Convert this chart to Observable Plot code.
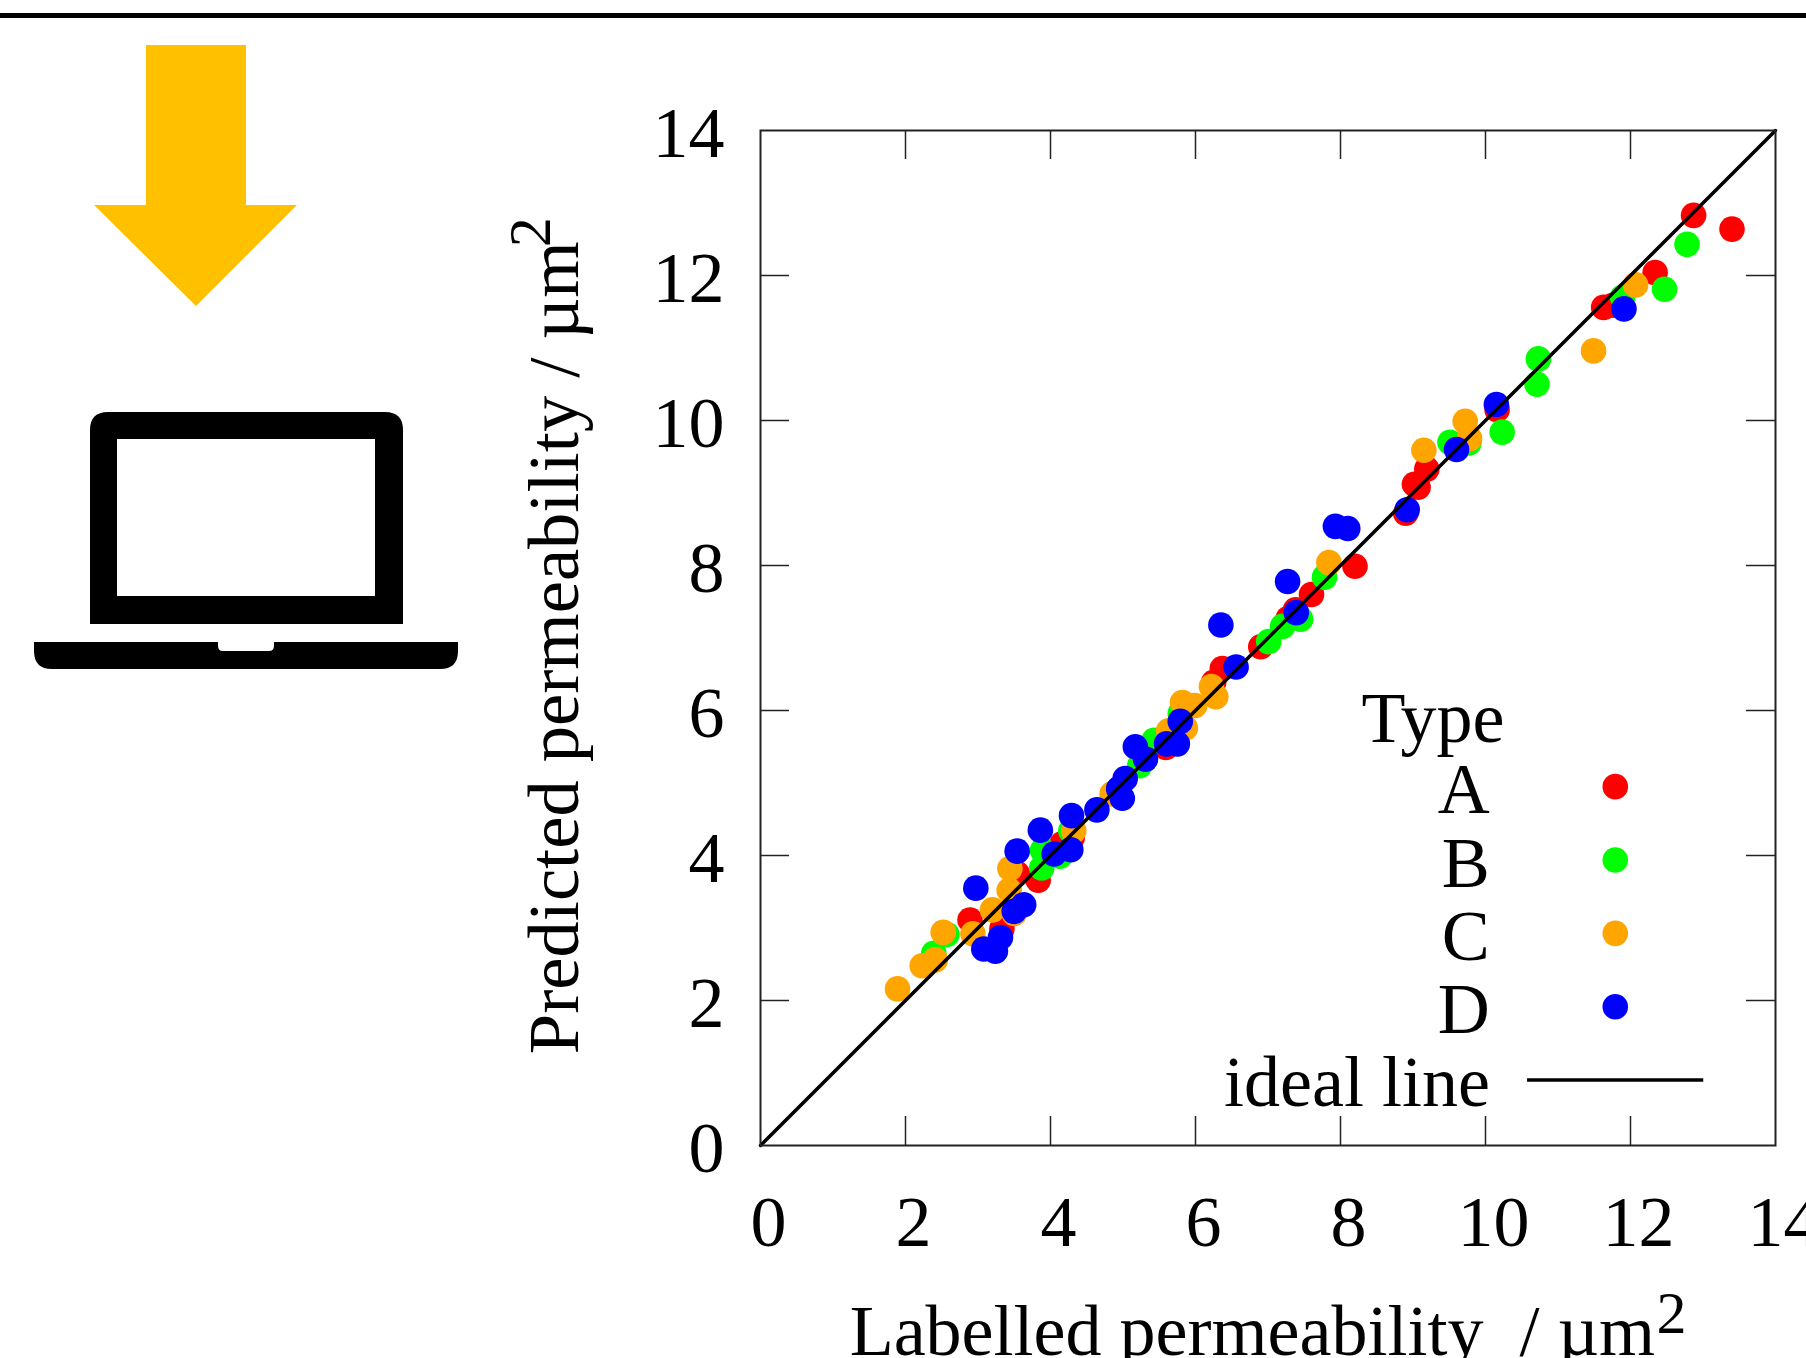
<!DOCTYPE html>
<html>
<head>
<meta charset="utf-8">
<script src="https://cdn.jsdelivr.net/npm/d3@7"></script>
<script src="https://cdn.jsdelivr.net/npm/@observablehq/plot@0.6"></script>
<style>
  html, body { margin: 0; padding: 0; background: #fff; width: 1806px; height: 1358px; overflow: hidden; }
  #page { position: relative; width: 1806px; height: 1358px; }
  #rule { position: absolute; left: 0; top: 13px; width: 1806px; height: 5px; background: #000; }
  #icons { position: absolute; left: 0; top: 0; }
  #chart { position: absolute; left: 460px; top: 20px; }
</style>
</head>
<body>
<div id="page">
  <div id="rule"></div>
  <svg id="icons" width="460" height="700" viewBox="0 0 460 700">
    <path fill="#FFC000" d="M146 45H246V205H297L196 306L94 205H146Z"/>
    <path fill="#000" fill-rule="evenodd" d="M108 412H385Q403 412 403 430V624H90V430Q90 412 108 412ZM117 439V596H375V439Z"/>
    <path fill="#000" d="M34 642H218V646Q218 651 223 651H269Q274 651 274 646V642H458V651Q458 669 440 669H52Q34 669 34 651Z"/>
  </svg>
  <div id="chart"></div>
</div>
<script>
const types = ["A", "B", "C", "D"];
const typeColors = ["#ff0000", "#00ff00", "#ffa500", "#0000ff"];

const aX = [2.89,3.33,3.38,3.54,3.83,4.16,4.30,5.59,6.25,6.37,6.90,7.28,7.38,7.60,8.20,8.90,9.02,9.07,9.19,10.16,11.63,11.76,12.34,12.87,13.40];
const aY = [3.11,2.99,3.15,3.75,3.66,4.16,4.25,5.49,6.39,6.58,6.88,7.27,7.39,7.60,7.99,8.72,9.12,9.08,9.33,10.15,11.56,11.59,12.04,12.83,12.64];

const bX = [2.39,2.57,3.88,3.89,4.13,4.28,5.23,5.43,5.79,7.01,7.20,7.45,7.78,9.51,9.77,10.23,10.71,10.73,11.89,12.47,12.78];
const bY = [2.65,2.91,3.83,4.07,3.99,4.34,5.24,5.59,5.96,6.95,7.16,7.26,7.84,9.70,9.69,9.84,10.50,10.85,11.70,11.81,12.43];

const cX = [1.89,2.23,2.41,2.52,2.93,3.20,3.43,3.44,3.50,4.32,4.85,5.63,5.86,5.82,5.99,6.22,6.28,7.84,9.15,9.72,9.78,11.49,12.07];
const cY = [2.16,2.48,2.56,2.94,2.92,3.25,3.52,3.82,3.20,4.34,4.85,5.72,5.76,6.11,6.07,6.33,6.19,8.04,9.59,9.99,9.75,10.96,11.87];

const dX = [2.97,3.08,3.24,3.31,3.50,3.63,3.54,3.86,4.05,4.28,4.29,4.64,4.99,4.94,5.03,5.31,5.17,5.60,5.75,5.79,6.35,6.56,7.39,7.27,7.93,8.10,8.92,9.60,10.15,11.91];
const dY = [3.55,2.71,2.68,2.87,3.23,3.32,4.06,4.35,4.02,4.08,4.55,4.63,4.79,4.92,5.06,5.33,5.50,5.54,5.54,5.85,7.18,6.60,7.35,7.78,8.54,8.51,8.77,9.60,10.22,11.54];

const axisTicks = [0, 2, 4, 6, 8, 10, 12, 14];
const innerTicks = [2, 4, 6, 8, 10, 12];
const idealLine = [0, 14];
const xTitle = "Labelled permeability  / µm";
const yTitle = "Predicted permeability / µm";
const legendTitle = "Type";
const lineLabel = "ideal line";

const table = (t, xs, ys) => xs.map((x, i) => ({type: t, x, y: ys[i]}));
const points = [
  ...table("A", aX, aY),
  ...table("B", bX, bY),
  ...table("C", cX, cY),
  ...table("D", dX, dY)
];

const fs = 72;
const yTitleFs = 72.5;
const xTitleFs = 72;
const supFs = 60;
const tickLen = 29;
const plotH = 1015;
const ink = "#222";
const dotY = i => 4.95 - i * 1.012;
const textY = i => 4.58 - i * 1.01;

const chart = Plot.plot({
  width: 1346,
  height: 1338,
  marginLeft: 300,
  marginRight: 31,
  marginTop: 110,
  marginBottom: 213,
  style: {fontFamily: "'Liberation Serif', serif", background: "transparent", overflow: "hidden"},
  x: {domain: [0, 14]},
  y: {domain: [0, 14]},
  color: {domain: types, range: typeColors},
  marks: [
    Plot.dot(points, {x: "x", y: "y", fill: "type", r: 12.8}),
    Plot.line(idealLine, {x: d => d, y: d => d, stroke: "#000", strokeWidth: 3.5}),
    Plot.frame({stroke: ink, strokeWidth: 2}),
    Plot.tickX(innerTicks, {x: d => d, stroke: ink, strokeWidth: 1.5, insetTop: plotH - tickLen}),
    Plot.tickX(innerTicks, {x: d => d, stroke: ink, strokeWidth: 1.5, insetBottom: plotH - tickLen}),
    Plot.tickY(innerTicks, {y: d => d, stroke: ink, strokeWidth: 1.5, insetRight: plotH - tickLen}),
    Plot.tickY(innerTicks, {y: d => d, stroke: ink, strokeWidth: 1.5, insetLeft: plotH - tickLen}),
    Plot.axisX(axisTicks, {anchor: "bottom", tickSize: 0, tickPadding: 49, tickFormat: "d", fontSize: fs, fill: "#000", dx: 8, label: null}),
    Plot.axisY(axisTicks, {anchor: "left", tickSize: 0, tickPadding: 36, tickFormat: "d", fontSize: fs, fill: "#000", dy: 3, label: null}),
    // axis titles
    Plot.text([xTitle], {x: () => 1.23, y: () => -2.89, text: d => d, textAnchor: "start", lineAnchor: "bottom", fontSize: xTitleFs, fill: "#000"}),
    Plot.text(["2"], {x: () => 12.36, y: () => -2.58, text: d => d, textAnchor: "start", lineAnchor: "bottom", fontSize: supFs, fill: "#000"}),
    Plot.text([yTitle], {x: () => -2.52, y: () => 1.26, text: d => d, rotate: -90, textAnchor: "start", lineAnchor: "bottom", fontSize: yTitleFs, fill: "#000"}),
    Plot.text(["2"], {x: () => -2.897, y: () => 12.39, text: d => d, rotate: -90, textAnchor: "start", lineAnchor: "bottom", fontSize: supFs, fill: "#000"}),
    // legend
    Plot.text([legendTitle], {x: () => 10.26, y: () => 5.57, text: d => d, textAnchor: "end", lineAnchor: "bottom", fontSize: fs, fill: "#000"}),
    Plot.text(types, {x: () => 10.06, y: (d, i) => textY(i), text: d => d, textAnchor: "end", lineAnchor: "bottom", fontSize: fs, fill: "#000"}),
    Plot.dot(types, {x: () => 11.79, y: (d, i) => dotY(i), fill: d => d, r: 12.8}),
    Plot.text([lineLabel], {x: () => 10.06, y: () => textY(4), text: d => d, textAnchor: "end", lineAnchor: "bottom", fontSize: fs, fill: "#000"}),
    Plot.ruleY([dotY(4)], {x1: 10.58, x2: 13.01, stroke: "#000", strokeWidth: 3.5})
  ]
});
document.getElementById("chart").appendChild(chart);
</script>
</body>
</html>
